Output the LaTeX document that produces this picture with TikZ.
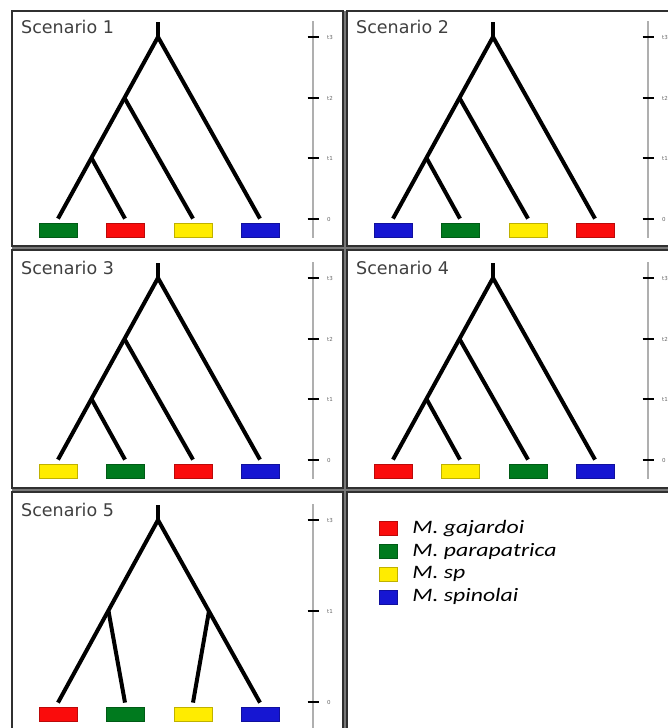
\documentclass[tikz,border=0pt]{standalone}
\usepackage{fontspec}
\setmainfont{DejaVu Sans}
\newfontfamily\legendfont{Carlito}
\definecolor{sgreen}{RGB}{0,122,30}
\definecolor{sred}{RGB}{250,12,12}
\definecolor{syellow}{RGB}{255,236,0}
\definecolor{sblue}{RGB}{22,22,210}
\definecolor{framegray}{RGB}{48,48,48}
\definecolor{gapgray}{RGB}{120,120,120}
\definecolor{titlegray}{RGB}{64,64,64}
\definecolor{axisgray}{RGB}{175,175,175}
\tikzset{
  panelframe/.style={draw=framegray, fill=white, line width=2.4pt},
  branch/.style={line width=4pt, black, line join=miter},
  leaf/.style={rectangle, minimum width=38pt, minimum height=14pt, inner sep=0pt, line width=0.8pt},
  paneltitle/.style={anchor=base west, inner sep=0pt, text=titlegray, font=\fontsize{17.5}{19}\selectfont},
  axisline/.style={draw=axisgray, line width=1.4pt},
  tickmark/.style={draw=black, line width=2.8pt},
  ticklabel/.style={anchor=west, inner sep=0pt, text=black!60, font=\fontsize{5.5}{6}\selectfont},
  legendbox/.style={rectangle, minimum width=18pt, minimum height=14pt, inner sep=0pt, line width=0.6pt},
  legendtext/.style={anchor=west, inner sep=0pt, font=\legendfont\itshape\fontsize{19}{20}\selectfont, xscale=1.25}
}
% one leaf box per taxon
\newcommand{\leafbox}[3]{\node[leaf, fill=#2, draw=#2!75!black] (#1) at #3 {};}
% time axis: prefix, axis end, list of y/label
\newcommand{\timeaxis}[3]{%
  \draw[axisline] (313,21) -- (313,#2);
  \foreach \ty/\tl [count=\ti] in {#3} {
    \draw[tickmark] (307.5,\ty) -- (318.5,\ty);
    \node[ticklabel] (#1tick\ti) at (327,\ty) {\tl};
  }%
}
% ladder-shaped tree ((((a,b),c),d)
\newcommand{\laddertree}[8]{%
\begin{scope}[shift={(#2,#3)}]
  \node[paneltitle] (#1title) at (21,33) {#4};
  \leafbox{#1a}{#5}{(58,230)}
  \leafbox{#1b}{#6}{(125,230)}
  \leafbox{#1c}{#7}{(193,230)}
  \leafbox{#1d}{#8}{(260,230)}
  \coordinate (#1stem) at (158,22);
  \coordinate (#1root) at (158,37);
  \coordinate (#1m) at (124.5,98);
  \coordinate (#1n) at (91.5,158);
  \draw[branch] (#1stem) -- (#1root);
  \draw[branch] ([yshift=4pt]#1a.north) -- (#1root) -- ([yshift=4pt]#1d.north);
  \draw[branch] (#1m) -- ([yshift=4pt]#1c.north);
  \draw[branch] (#1n) -- ([yshift=4pt]#1b.north);
  \timeaxis{#1}{238}{37/t3, 98/t2, 158/t1, 219/0}
\end{scope}}
\begin{document}
\begin{tikzpicture}[x=1pt, y=-1pt]
  \useasboundingbox (0,0) rectangle (668,728);
  \clip (0,0) rectangle (668,728);
  \fill[white] (0,0) rectangle (668,728);

  % panel frames on a grey backing, so the seams show a lighter core
  \fill[gapgray] (12,11) rectangle (700,760);
  \draw[panelframe] (12,11) rectangle (343.2,246.2);
  \draw[panelframe] (346.8,11) rectangle (700,246.2);
  \draw[panelframe] (12,249.8) rectangle (343.2,488.2);
  \draw[panelframe] (346.8,249.8) rectangle (700,488.2);
  \draw[panelframe] (12,491.8) rectangle (343.2,760);
  \draw[panelframe] (346.8,491.8) rectangle (700,760);

  \laddertree{sA}{0}{0}{Scenario 1}{sgreen}{sred}{syellow}{sblue}
  \laddertree{sB}{335}{0}{Scenario 2}{sblue}{sgreen}{syellow}{sred}
  \laddertree{sC}{0}{241}{Scenario 3}{syellow}{sgreen}{sred}{sblue}
  \laddertree{sD}{335}{241}{Scenario 4}{sred}{syellow}{sgreen}{sblue}

  % balanced tree ((a,b),(c,d))
  \begin{scope}[shift={(0,483)}]
    \node[paneltitle] (sEtitle) at (21,33) {Scenario 5};
    \leafbox{sEa}{sred}{(58,231)}
    \leafbox{sEb}{sgreen}{(125,231)}
    \leafbox{sEc}{syellow}{(193,231)}
    \leafbox{sEd}{sblue}{(260,231)}
    \coordinate (sEstem) at (158,22);
    \coordinate (sEroot) at (158,37);
    \coordinate (sEl) at (108.5,128);
    \coordinate (sEr) at (209,128);
    \draw[branch] (sEstem) -- (sEroot);
    \draw[branch] ([yshift=4pt]sEa.north) -- (sEroot) -- ([yshift=4pt]sEd.north);
    \draw[branch] (sEl) -- ([yshift=4pt]sEb.north);
    \draw[branch] (sEr) -- ([yshift=4pt]sEc.north);
    \timeaxis{sE}{250}{37/t3, 128/t1, 219/0}
  \end{scope}

  % legend
  \foreach \c/\name [count=\k] in {sred/M. gajardoi, sgreen/M. parapatrica, syellow/M. sp, sblue/M. spinolai} {
    \node[legendbox, fill=\c, draw=\c!75!black] (key\k) at (388, 506+22.7*\k) {};
    \node[legendtext] (keytext\k) at (412, 506+22.7*\k) {\name};
  }
\end{tikzpicture}
\end{document}
